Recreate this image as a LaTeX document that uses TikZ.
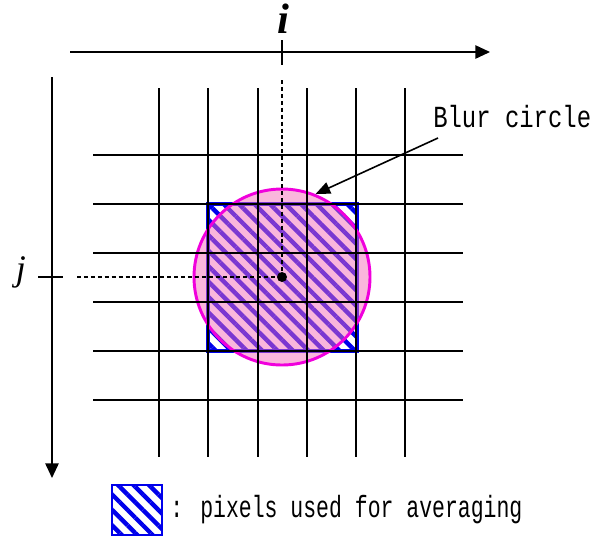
\documentclass[tikz,border=0pt]{standalone}
\usepackage{fontspec}
\newfontfamily\gothicfont[FakeStretch=0.78]{Liberation Mono}
\newfontfamily\legendfont[FakeStretch=0.70]{Liberation Mono}
\newfontfamily\axisfont{Liberation Serif}
\usetikzlibrary{arrows.meta, patterns.meta, positioning}
\definecolor{BlurPink}{RGB}{245,110,185}
\definecolor{RingMagenta}{RGB}{240,0,220}
\definecolor{PixBlue}{RGB}{0,0,235}

\begin{document}
\begin{tikzpicture}[x=0.75pt, y=-0.75pt,
    gridline/.style={line width=1.5pt, black},
    axisarrow/.style={line width=1.2pt, -{Triangle[length=11pt, width=10pt]}},
    guide/.style={dash pattern=on 3pt off 2.2pt, line width=0.8pt},
    hatch/.style={pattern={Lines[angle=-45, distance=8.2pt, line width=3.3pt]}, pattern color=PixBlue}]
  \useasboundingbox (0,0) rectangle (609,537);

  % the 3x3 block of pixels used for averaging
  \fill[hatch] (208,204) rectangle (357,351);
  \draw[PixBlue, line width=2.3pt] (208,204) rectangle (357,351);

  % blur circle, see-through so the hatching shows
  \node[circle, minimum size=132pt, inner sep=0, fill=BlurPink, fill opacity=0.5] (blur) at (282,277) {};
  \node[circle, minimum size=132pt, inner sep=0, draw=RingMagenta, line width=2.2pt] (ring) at (282,277) {};

  % pixel grid
  \foreach \gx in {159,208,258,307,356,405}
    \draw[gridline] (\gx,88) -- (\gx,457);
  \foreach \gy in {155,204,253,302,351,400}
    \draw[gridline] (93,\gy) -- (463,\gy);

  % axes i and j
  \coordinate (ifrom) at (70,52);
  \coordinate (ito)   at (490,52);
  \coordinate (jfrom) at (52,77);
  \coordinate (jto)   at (52,478);
  \draw[axisarrow] (ifrom) -- (ito);
  \draw[axisarrow] (jfrom) -- (jto);
  \node[font=\axisfont\bfseries\itshape\fontsize{32}{32}\selectfont, anchor=base, inner sep=0] (ilabel) at (283,33) {i};
  \node[font=\axisfont\itshape\fontsize{27}{27}\selectfont, anchor=base, inner sep=0] (jlabel) at (21,280) {j};
  \draw[line width=1pt] (282,40) -- (282,65);
  \draw[line width=1pt] (38,277) -- (63,277);

  % guides to the centre pixel
  \coordinate (ctr)  at (282,277);
  \coordinate (itop) at (282,80);
  \coordinate (jleft) at (77,277);
  \draw[guide] (itop) -- (ctr);
  \draw[guide] (jleft) -- (ctr);
  \fill (ctr) circle (5);

  % callout
  \node[font=\gothicfont\fontsize{23}{23}\selectfont, anchor=base west, inner sep=0] (blurlabel) at (433,127) {Blur circle};
  \coordinate (blurtail) at (438,138);
  \draw[line width=1.2pt, -{Triangle[length=11pt, width=9pt]}] (blurtail) -- (ring.68);

  % legend
  \node[draw=PixBlue, line width=1.6pt, hatch, minimum size=38pt, inner sep=0] (legbox) at (137,510) {};
  \node[font=\legendfont\fontsize{23}{23}\selectfont, anchor=base west, inner sep=0] (legtext) at (170,517) {: pixels used for averaging};
\end{tikzpicture}
\end{document}
